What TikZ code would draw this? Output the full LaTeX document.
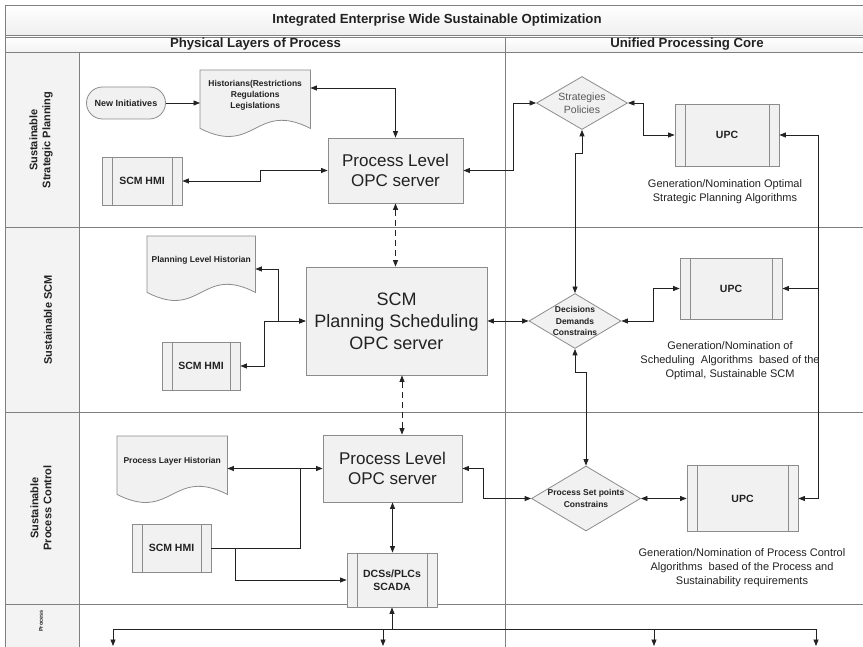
\documentclass[tikz,border=0pt]{standalone}
\usepackage{fontspec}
\setmainfont{Liberation Sans}
\usetikzlibrary{arrows.meta,shapes.geometric,calc}

\definecolor{ink}{HTML}{222222}
\definecolor{gridline}{HTML}{808080}
\definecolor{shapeline}{HTML}{8C8C8C}
\definecolor{shapefill}{HTML}{F1F1F1}
\definecolor{bandfill}{HTML}{F3F3F3}

% document (wavy bottom) symbol: name, left x, top y, width, height, text
\newcommand\docnode[6]{%
  \node[docbox, minimum width=#4pt, minimum height=#5pt, anchor=north west] (#1) at (#2,#3) {};
  \draw[shapeline, fill=shapefill, line width=0.8pt]
    (#1.south west) -- (#1.north west) -- (#1.north east) -- (#1.south east)
    .. controls +(-0.5*#4,-28) and +(0.5*#4,28) .. (#1.south west) -- cycle;
  \node[doctext] (#1-label) at ($(#1.center)+(0,-4)$) {#6};
}

\begin{document}
\begin{tikzpicture}[x=1pt,y=-1pt,
  >={Triangle[length=6.5pt,width=5pt]},
  every node/.style={text=ink},
  grid/.style={draw=gridline, line width=0.8pt},
  wire/.style={draw=ink, line width=0.8pt},
  dashwire/.style={wire, dash pattern=on 6pt off 4pt},
  docbox/.style={draw=none, inner sep=0pt},
  doctext/.style={font=\bfseries\fontsize{8.5}{11}\selectfont, align=center},
  terminal/.style={draw=shapeline, fill=shapefill, line width=0.8pt, rounded corners=16pt,
    inner sep=0pt, font=\bfseries\fontsize{9}{10}\selectfont},
  procbox/.style={draw=shapeline, fill=shapefill, line width=0.8pt, inner sep=0pt,
    font=\bfseries\fontsize{10.5}{13}\selectfont, align=center,
    path picture={\draw[shapeline, line width=0.8pt]
      ([xshift=10pt]path picture bounding box.north west) -- ([xshift=10pt]path picture bounding box.south west)
      ([xshift=-10pt]path picture bounding box.north east) -- ([xshift=-10pt]path picture bounding box.south east);}},
  server/.style={draw=shapeline, fill=shapefill, line width=0.8pt, inner sep=0pt, align=center,
    font=\fontsize{17}{20}\selectfont},
  decision/.style={diamond, draw=shapeline, fill=shapefill, line width=0.8pt, inner sep=0pt},
  dectext/.style={align=center, font=\bfseries\fontsize{8.5}{11.5}\selectfont},
  caption/.style={align=center, font=\fontsize{11}{14}\selectfont},
  lanetext/.style={align=center, rotate=90, font=\bfseries\fontsize{11}{13}\selectfont},
  headtext/.style={font=\bfseries\fontsize{13.2}{15}\selectfont}
]
\useasboundingbox (0,0) rectangle (863,647);
\clip (0,0) rectangle (863,647);
\fill[white] (0,0) rectangle (863,647);

% ---- pool frame ----
\shade[top color=white, bottom color=gray!12] (5,5) rectangle (880,35);
\shade[top color=white, bottom color=gray!10] (5,37) rectangle (880,52);
\fill[bandfill] (5,52) rectangle (79,700);
\draw[grid] (5,5) rectangle (880,35);
\draw[grid] (5,37) rectangle (880,52);
\draw[grid] (5,5) -- (5,700);
\draw[grid] (79,52) -- (79,700);
\draw[grid] (505,37) -- (505,700);
\draw[grid] (5,227) -- (880,227);
\draw[grid] (5,412) -- (880,412);
\draw[grid] (5,604) -- (880,604);

\node[headtext] (title) at (437,20) {Integrated Enterprise Wide Sustainable Optimization};
\node[headtext] (hdrphys) at (255.5,44.5) {Physical Layers of Process};
\node[headtext] (hdrcore) at (687,44.5) {Unified Processing Core};

\node[lanetext] (lane1) at (41,140) {Sustainable\\Strategic Planning};
\node[lanetext] (lane2) at (48,320) {Sustainable SCM};
\node[lanetext] (lane3) at (41,508) {Sustainable\\Process Control};
\node[lanetext, font=\bfseries\fontsize{5.5}{6}\selectfont] (lane4) at (41,621) {Process};

% ---- strategic planning lane ----
\node[terminal, minimum width=79pt, minimum height=32pt] (init) at (126,103) {New Initiatives};
\docnode{hist1}{200}{70}{110}{58}{Historians(Restrictions\\Regulations\\Legislations}
\node[procbox, minimum width=80pt, minimum height=48pt] (hmi1) at (142,181) {SCM HMI};
\node[server, minimum width=135pt, minimum height=65pt] (opc1) at (395.5,170.5) {Process Level\\OPC server};
\node[decision, minimum width=91pt, minimum height=53pt,
  label={[align=center, text=ink!75, font=\fontsize{10.5}{13}\selectfont]center:{Strategies\\Policies}}] (strat) at (582,103) {};
\node[procbox, minimum width=104pt, minimum height=62pt] (upc1) at (727,135) {UPC};
\node[caption] (cap1) at (725,192) {Generation/Nomination Optimal\\Strategic Planning Algorithms};

% ---- SCM lane ----
\docnode{hist2}{147}{236}{108}{56}{Planning Level Historian}
\node[procbox, minimum width=78pt, minimum height=48pt] (hmi2) at (201,366) {SCM HMI};
\node[server, minimum width=181pt, minimum height=108pt, font=\fontsize{18}{22}\selectfont] (opc2) at (396.5,321) {SCM\\Planning Scheduling\\OPC server};
\node[decision, minimum width=92pt, minimum height=55pt,
  label={[dectext]center:{Decisions\\Demands\\Constrains}}] (dec) at (575,321) {};
\node[procbox, minimum width=102pt, minimum height=61pt] (upc2) at (731,288.5) {UPC};
\node[caption] (cap2) at (730,361) {Generation/Nomination of\\Scheduling~ Algorithms~ based of the\\Optimal, Sustainable SCM};

% ---- process control lane ----
\docnode{hist3}{117}{436}{110}{58}{Process Layer Historian}
\node[server, minimum width=139pt, minimum height=67pt] (opc3) at (392.5,468.5) {Process Level\\OPC server};
\node[procbox, minimum width=79pt, minimum height=48pt] (hmi3) at (171.5,548) {SCM HMI};
\node[procbox, minimum width=90pt, minimum height=54pt] (dcs) at (392,580) {DCSs/PLCs\\SCADA};
\node[decision, minimum width=109pt, minimum height=65pt,
  label={[dectext]center:{Process Set points\\Constrains}}] (psp) at (586,498.5) {};
\node[procbox, minimum width=111pt, minimum height=66pt] (upc3) at (742.5,498.5) {UPC};
\node[caption] (cap3) at (742,567.5) {Generation/Nomination of Process Control\\Algorithms~ based of the Process and\\Sustainability requirements};

% ---- helper coordinates ----
\coordinate (rbus) at (818,0);
\coordinate (h2port) at ($(hist2.north east)+(0,33)$);
\coordinate (h1port) at ($(hist1.north east)+(0,18)$);
\coordinate (j3) at (300,0);
\coordinate (k3) at ($(hmi3.east)+(24,0)$);
\coordinate (d2) at ($(opc2.south)+(5.5,0)$);
\coordinate (busL) at (113,629);
\coordinate (busR) at (816,629);
\coordinate (tapA) at (383,629);
\coordinate (tapB) at (654,629);
\coordinate (outL) at (113,646);
\coordinate (outA) at (383,646);
\coordinate (outB) at (654,646);
\coordinate (outR) at (816,646);

% ---- connectors: strategic planning ----
\draw[wire, ->] (init) -- (init -| hist1.west);
\draw[wire, <->] (h1port) -| (opc1.north);
\draw[wire, <->] (hmi1.east) -- ++(78,0) |- (opc1.west);
\draw[wire, <->] (opc1.east) -- ++(50,0) |- (strat.west);
\draw[wire, <->] (strat.east) -- ++(15,0) |- (upc1.west);
\draw[wire, <->] (strat.south) -- ++(0,24) -| (dec.north);
\draw[wire, <-] (upc1.east) -- (upc1.east -| rbus) -- (upc3.east -| rbus);
\draw[wire, ->] (upc2.east -| rbus) -- (upc2.east);
\draw[wire, ->] (upc3.east -| rbus) -- (upc3.east);
\draw[dashwire, <->] (opc1.south) -- (opc1.south |- opc2.north);

% ---- connectors: SCM ----
\draw[wire, <->] (h2port) -- ++(23,0) |- (opc2.west);
\draw[wire, <->] (hmi2.east) -- ++(24,0) |- (opc2.west);
\draw[wire, <->] (opc2.east) -- (dec.west);
\draw[wire, <->] (dec.east) -- ++(32,0) |- (upc2.west);
\draw[wire, <->] (dec.south) -- ++(0,24) -| (psp.north);
\draw[dashwire, <->] (d2) -- (d2 |- opc3.north);

% ---- connectors: process control ----
\draw[wire, <->] (hist3.east |- opc3.west) -- (opc3.west);
\draw[wire] (hmi3.east) -| (j3 |- opc3.west);
\draw[wire, ->] (k3) |- (dcs.west);
\draw[wire, <->] (opc3.south) -- (opc3.south |- dcs.north);
\draw[wire, <->] (opc3.east) -- ++(21,0) |- (psp.west);
\draw[wire, <->] (psp.east) -- (upc3.west);

% ---- process bus ----
\draw[wire, <-] (dcs.south) -- (dcs.south |- busL);
\draw[wire] (busL) -- (busR);
\draw[wire, ->] (busL) -- (outL);
\draw[wire, ->] (tapA) -- (outA);
\draw[wire, ->] (tapB) -- (outB);
\draw[wire, ->] (busR) -- (outR);
\end{tikzpicture}
\end{document}
